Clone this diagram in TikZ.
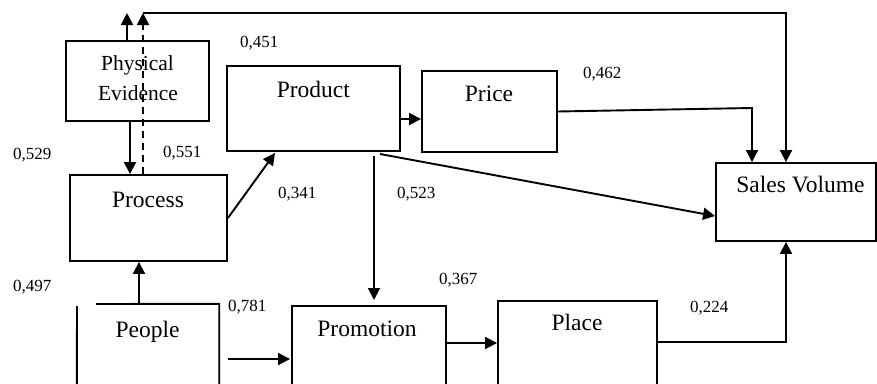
\documentclass[tikz,border=0pt]{standalone}
\usepackage{fontspec}
\setmainfont{Liberation Serif}
\usetikzlibrary{arrows.meta}
\begin{document}
\begin{tikzpicture}[x=1pt,y=-1pt,
 box/.style={draw, line width=1.9pt, inner sep=0pt, rectangle},
 conn/.style={line width=1.9pt},
 arr/.style={conn, -{Triangle[length=12pt,width=12pt]}},
 dashline/.style={dash pattern=on 7pt off 5pt},
 lbl/.style={anchor=base, inner sep=0pt, font=\fontsize{23.5}{26}\selectfont},
 pelbl/.style={anchor=base, inner sep=0pt, font=\fontsize{21.5}{24}\selectfont},
 num/.style={anchor=base west, inner sep=0pt, font=\fontsize{17}{19}\selectfont}]
\useasboundingbox (0,0) rectangle (877,383);
\clip (0,0) rectangle (877,383);
% boxes
\node[box, minimum width=143pt, minimum height=80pt] (pe) at (137.5,81) {};
\node[box, minimum width=157pt, minimum height=86pt] (proc) at (148.5,218) {};
\node[box, minimum width=173pt, minimum height=85pt] (prod) at (313.5,108.5) {};
\node[box, minimum width=135pt, minimum height=81pt] (price) at (489.5,111.5) {};
\node[box, minimum width=160pt, minimum height=78pt] (sv) at (796,202) {};
\node[box, minimum width=154pt, minimum height=94pt] (prom) at (369,353) {};
\node[box, minimum width=159pt, minimum height=99pt] (place) at (577.5,350.5) {};
\node[inner sep=0pt, minimum width=142pt, minimum height=96pt] (peo) at (148,352) {};
\draw[conn] (96,304) -- (peo.north east) -- (peo.south east);
\draw[conn] (77,306) -- (peo.south west);
% box labels
\node[pelbl] (tphys) at (137.5,70) {Physical};
\node[pelbl] (tevid) at (138,100) {Evidence};
\node[lbl] (tproc) at (148,207) {Process};
\node[lbl] (tprod) at (313.3,97) {Product};
\node[lbl] (tprice) at (489,101) {Price};
\node[lbl] (tsv) at (800.5,192) {Sales Volume};
\node[lbl] (tpeo) at (147.5,337) {People};
\node[lbl] (tprom) at (367,336) {Promotion};
\node[lbl] (tplace) at (577,330) {Place};
% numbers
\node[num] (n451) at (240,47) {0,451};
\node[num] (n529) at (13,159) {0,529};
\node[num] (n551) at (163,157) {0,551};
\node[num] (n341) at (278,198) {0,341};
\node[num] (n523) at (397,198) {0,523};
\node[num] (n367) at (439,284) {0,367};
\node[num] (n462) at (583,78) {0,462};
\node[num] (n224) at (690,312) {0,224};
\node[num] (n497) at (13,291) {0,497};
\node[num] (n781) at (228,311) {0,781};
% helper coordinates
\coordinate (topL) at (127,13);
\coordinate (topD) at (143,13);
\coordinate (topR) at (786,13);
\coordinate (xb) at (130,0);
\coordinate (pp) at (275,153);
\coordinate (y119) at (0,119);
\coordinate (pv) at (752,108);
\coordinate (pd1) at (374,156);
\coordinate (pd2) at (374,300);
\coordinate (ps1) at (380,154);
\coordinate (y216) at (0,216);
\coordinate (y343) at (0,343);
\coordinate (y342) at (0,342);
\coordinate (bR) at (786,342);
\coordinate (xc) at (139,0);
\coordinate (y359) at (0,359);
% connectors
\draw[arr] (pe.north -| topL) -- (topL);
\draw[arr, dashline] (proc.north -| topD) -- (topD);
\draw[arr] (topD) -- (topR) -- (sv.north -| topR);
\draw[arr] (pe.south -| xb) -- (proc.north -| xb);
\draw[arr] (proc.east) -- (pp);
\draw[arr] (prod.east |- y119) -- (price.west |- y119);
\draw[arr] (price.east) -- (pv) -- (sv.north -| pv);
\draw[arr] (pd1) -- (pd2);
\draw[arr] (ps1) -- (sv.west |- y216);
\draw[arr] (prom.east |- y343) -- (place.west |- y343);
\draw[arr] (place.east |- y342) -- (bR) -- (sv.south -| bR);
\draw[arr] (peo.north -| xc) -- (proc.south -| xc);
\draw[arr, shorten >=1pt] (proc.east |- y359) -- (prom.west |- y359);
\end{tikzpicture}
\end{document}
